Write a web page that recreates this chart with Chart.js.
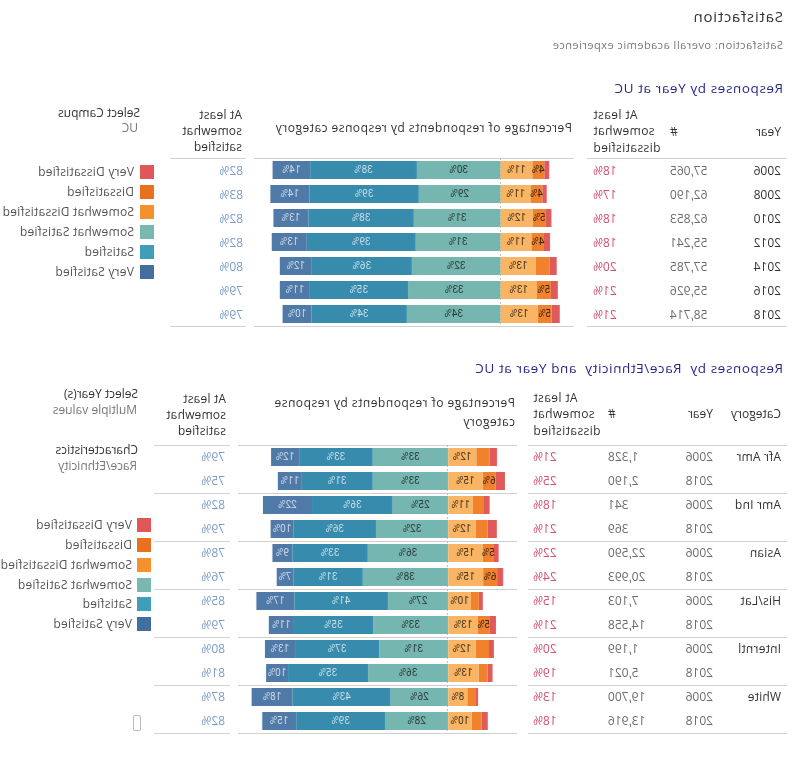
<!DOCTYPE html>
<html><head><meta charset="utf-8">
<script src="https://cdn.jsdelivr.net/npm/chart.js@4"></script>
<style>
html,body{margin:0;padding:0;background:#fff;}
#page{position:relative;width:794px;height:778px;transform:scaleX(-1);transform-origin:397px 389px;overflow:hidden;font-family:"Open Sans","Noto Sans",sans-serif;background:#fff;}
.t{position:absolute;white-space:pre;}
.hl{position:absolute;height:1px;background:#d0d0d0;}
canvas{position:absolute;}
.sw{position:absolute;width:14px;height:14px;}
</style></head>
<body><div id="page"></div>
<script>
// ---------- Data: section 1 (by year) ----------
const years1 = ['2006','2008','2010','2012','2014','2016','2018'];
const counts1 = ['57,065','62,190','62,853','55,241','57,785','55,926','58,714'];
const dissat1 = [18,17,18,18,20,21,21];
const sat1 = [82,83,82,82,80,79,79];
const vs1 = [13.5,14.0,12.6,12.6,11.5,10.8,10.4];
const s1  = [38.4,39.4,37.9,39.2,36.0,35.3,34.3];
const ss1 = [30.1,29.4,31.2,30.5,31.9,33.3,33.7];
const sd1 = [11.4,10.9,11.6,11.3,12.7,13.1,13.4];
const d1  = [4.3,4.1,4.7,4.3,5.0,5.0,5.0];
const vd1 = [1.8,1.6,2.0,2.2,2.5,2.5,2.9];
const vsLab1 = [14,14,13,13,12,11,10];
const sLab1  = [38,39,38,39,36,35,34];
const ssLab1 = [30,29,31,31,32,33,34];
const sdLab1 = [11,11,12,11,13,13,13];
const dLab1  = [4,4,5,4,null,5,5];

// ---------- Data: section 2 (by race/ethnicity and year) ----------
const cats2 = ['Afr Amr','Amr Ind','Asian','His/Lat','Interntl','White'];
const years2 = ['2006','2018','2006','2018','2006','2018','2006','2018','2006','2018','2006','2018'];
const counts2 = ['1,328','2,190','341','369','22,590','20,993','7,103','14,558','1,199','5,021','19,700','13,916'];
const dissat2 = [21,25,18,21,22,24,15,21,20,19,13,18];
const sat2 = [79,75,82,79,78,76,85,79,80,81,87,82];
const vs2 = [12.4,10.6,21.7,10.2,8.8,7.4,16.8,11.1,13.3,9.7,18.1,15.0];
const s2  = [32.6,31.4,35.7,36.4,33.4,30.7,41.4,35.0,37.2,35.4,43.4,39.3];
const ss2 = [33.4,33.4,24.6,32.0,35.6,37.8,26.7,33.3,30.6,35.5,25.5,28.0];
const sd2 = [12.4,15.2,10.9,12.2,15.3,15.4,10.0,13.1,12.2,13.4,8.4,10.4];
const d2  = [5.8,5.8,4.9,5.2,4.9,6.2,3.5,5.3,5.8,4.0,3.5,4.4];
const vd2 = [3.4,4.1,2.5,4.1,2.1,2.7,1.8,2.7,2.2,2.2,1.3,2.7];
const vsLab2 = [12,11,22,10,9,7,17,11,13,10,18,15];
const sLab2  = [33,31,36,36,33,31,41,35,37,35,43,39];
const ssLab2 = [33,33,25,32,36,38,27,33,31,36,26,28];
const sdLab2 = [12,15,11,12,15,15,10,13,12,13,8,10];
const dLab2  = [null,6,null,null,5,6,null,5,null,null,null,null];

const legendNames = ['Very Dissatisfied','Dissatisfied','Somewhat Dissatisfied','Somewhat Satisfied','Satisfied','Very Satisfied'];
const legendColors = ['#e15759','#e8701f','#f5902e','#79b8b0','#3f9fba','#426fa0'];
const barColors = {vd:'#e05a5b', d:'#f0822d', sd:'#f9b563', ss:'#76b6b0', s:'#378cae', vs:'#4f7aa8'};

// ---------- helpers ----------
const page = document.getElementById('page');
function txt(x, yc, str, o){
  o = o || {};
  const size = o.size || 12, lh = o.lh || Math.round(size*1.35);
  const lines = str.split('\n').length;
  const d = document.createElement('div');
  d.className = 't';
  d.textContent = str;
  d.style.fontSize = size+'px';
  d.style.lineHeight = lh+'px';
  d.style.color = o.color || '#333';
  if (o.ls) d.style.letterSpacing = o.ls+'px';
  if (o.weight) d.style.fontWeight = o.weight;
  d.style.top = (yc - lines*lh/2) + 'px';
  if (o.align === 'right'){ d.style.right = (794 - x)+'px'; d.style.textAlign='right'; }
  else d.style.left = x+'px';
  page.appendChild(d);
  return d;
}
function hline(x1, x2, y){
  const d = document.createElement('div');
  d.className='hl'; d.style.left=x1+'px'; d.style.width=(x2-x1)+'px'; d.style.top=y+'px';
  page.appendChild(d);
}
function swatch(x, yc, c){
  const d = document.createElement('div');
  d.className='sw'; d.style.left=x+'px'; d.style.top=(yc-7)+'px'; d.style.background=c;
  page.appendChild(d);
}

const segLabels = {
  id:'segLabels',
  afterDatasetsDraw(chart){
    const ctx = chart.ctx;
    chart.data.datasets.forEach((ds,i)=>{
      if(!ds.labs) return;
      const meta = chart.getDatasetMeta(i);
      meta.data.forEach((bar,j)=>{
        const v = ds.labs[j]; if(v==null) return;
        const p = bar.getProps(['x','base','y'], true);
        ctx.save();
        ctx.fillStyle = ds.labColor;
        ctx.font = '10px Roboto, "Noto Sans", sans-serif';
        ctx.textAlign='center'; ctx.textBaseline='middle';
        ctx.fillText(v+'%', (p.x+p.base)/2, p.y+0.5);
        ctx.restore();
      });
    });
  }
};
const centerLine = {
  id:'centerLine',
  beforeDatasetsDraw(chart){
    const ctx = chart.ctx, x = Math.round(chart.scales.x.getPixelForValue(0))+0.5;
    ctx.save(); ctx.strokeStyle='#bdbdbd'; ctx.lineWidth=1; ctx.setLineDash([2,2]);
    ctx.beginPath(); ctx.moveTo(x, chart.chartArea.top); ctx.lineTo(x, chart.chartArea.bottom); ctx.stroke();
    ctx.restore();
  }
};

function makeChart(left, top, w, h, labels, vals, labs, xmin, xmax){
  const c = document.createElement('canvas');
  c.width=w; c.height=h; c.style.left=left+'px'; c.style.top=top+'px';
  c.style.width=w+'px'; c.style.height=h+'px';
  page.appendChild(c);
  const mk = (name, data, color, lab, labColor) => ({label:name, data, backgroundColor:color, borderWidth:0,
      barPercentage:0.75, categoryPercentage:1, labs:lab, labColor});
  new Chart(c, {
    type:'bar',
    data:{ labels, datasets:[
      mk('Somewhat Dissatisfied', vals.sd.map(v=>-v), barColors.sd, labs.sd, '#3d3020'),
      mk('Dissatisfied', vals.d.map(v=>-v), barColors.d, labs.d, '#3a2414'),
      mk('Very Dissatisfied', vals.vd.map(v=>-v), barColors.vd, null, '#333'),
      mk('Somewhat Satisfied', vals.ss, barColors.ss, labs.ss, '#2c3837'),
      mk('Satisfied', vals.s, barColors.s, labs.s, '#cfdfe9'),
      mk('Very Satisfied', vals.vs, barColors.vs, labs.vs, '#d2dbe8')
    ]},
    options:{
      indexAxis:'y', responsive:false, animation:false, maintainAspectRatio:false,
      layout:{padding:0},
      plugins:{legend:{display:false}, tooltip:{enabled:false}},
      scales:{
        x:{stacked:true, min:xmin, max:xmax, display:false},
        y:{stacked:true, display:false}
      }
    },
    plugins:[centerLine, segLabels]
  });
}

// ---------- header ----------
txt(11, 16, 'Satisfaction', {size:15, color:'#333', ls:0.8});
txt(11, 44, 'Satisfaction: overall academic experience', {size:11, color:'#777', ls:0.5});

// ---------- Section 1 ----------
txt(11, 88, 'Responses by Year at UC', {size:13.5, color:'#27278a', ls:0.6});
txt(13, 132, 'Year', {size:12});
txt(124, 132, '#', {size:12, align:'right'});
txt(201, 131.5, 'At least\nsomewhat\ndissatisfied', {size:12, lh:16.5, align:'right', ls:0.4});
txt(222, 128, 'Percentage of respondents by response category', {size:12, ls:0.5});
txt(552, 131, 'At least\nsomewhat\nsatisfied', {size:12, lh:16, ls:0.2});
txt(654, 113, 'Select Campus', {size:12, color:'#333'});
txt(656, 128, 'UC', {size:12, color:'#777'});

hline(7, 207, 158); hline(7, 207, 326);
hline(220, 540, 158); hline(220, 540, 326);
hline(548, 624, 158); hline(548, 624, 326);

years1.forEach((y,i)=>{
  const yc = 170.5 + 24*i;
  txt(13, yc, y, {size:12, color:'#333'});
  txt(124, yc, counts1[i], {size:12, color:'#6b6b6b', align:'right'});
  txt(201, yc, dissat1[i]+'%', {size:12, color:'#d0506e', align:'right'});
  txt(551, yc, sat1[i]+'%', {size:12, color:'#7a9cc6'});
});
legendNames.forEach((n,i)=>{
  const yc = 172 + 20*i;
  swatch(640, yc, legendColors[i]);
  txt(660, yc, n, {size:12, color:'#555', ls:0.25});
});
makeChart(220, 158, 320, 168, years1,
  {vs:vs1, s:s1, ss:ss1, sd:sd1, d:d1, vd:vd1},
  {vs:vsLab1, s:sLab1, ss:ssLab1, sd:sdLab1, d:dLab1}, -26.4, 88.7);

// ---------- Section 2 ----------
txt(11, 368, 'Responses by  Race/Ethnicity  and Year at UC', {size:13.5, color:'#27278a', ls:0.6});
txt(13, 414, 'Category', {size:12});
txt(81, 414, 'Year', {size:12});
txt(186, 414, '#', {size:12, align:'right'});
txt(261, 414.5, 'At least\nsomewhat\ndissatisfied', {size:12, lh:16.5, align:'right', ls:0.4});
txt(279, 412.2, 'Percentage of respondents by response\ncategory', {size:12, lh:19, ls:0.5});
txt(568, 414.7, 'At least\nsomewhat\nsatisfied', {size:12, lh:16, ls:0.2});
txt(656, 394, 'Select Year(s)', {size:12, color:'#333'});
txt(657, 410, 'Multiple values', {size:12, color:'#777'});
txt(656, 450, 'Characteristics', {size:12, color:'#333'});
txt(657, 466, 'Race/Ethnicity', {size:12, color:'#777'});

for (let k=0;k<=6;k++){
  const y = 444.5 + 48*k;
  hline(7, 266, y); hline(277, 556, y); hline(564, 640, y);
}
years2.forEach((y,i)=>{
  const yc = 457 + 24*i;
  if (i%2===0) txt(13, yc, cats2[i/2], {size:12, color:'#333', ls:0.2});
  txt(81, yc, y, {size:12, color:'#6b6b6b'});
  txt(186, yc, counts2[i], {size:12, color:'#6b6b6b', align:'right'});
  txt(261, yc, dissat2[i]+'%', {size:12, color:'#d0506e', align:'right'});
  txt(569, yc, sat2[i]+'%', {size:12, color:'#7a9cc6'});
});
legendNames.forEach((n,i)=>{
  const yc = 524.8 + 19.9*i;
  swatch(643, yc, legendColors[i]);
  txt(662, yc, n, {size:12, color:'#555', ls:0.25});
});
const rowLabels2 = years2.map((y,i)=>cats2[Math.floor(i/2)]+' '+y);
makeChart(277, 445, 279, 288, rowLabels2,
  {vs:vs2, s:s2, ss:ss2, sd:sd2, d:d2, vd:vd2},
  {vs:vsLab2, s:sLab2, ss:ssLab2, sd:sdLab2, d:dLab2}, -30.4, 93.05);

// small toggle icon
const ic = document.createElement('div');
ic.style.cssText='position:absolute;left:653px;top:715px;width:6px;height:14px;border:1.5px solid #bbb;border-radius:2px;';
page.appendChild(ic);
</script>
</body></html>
